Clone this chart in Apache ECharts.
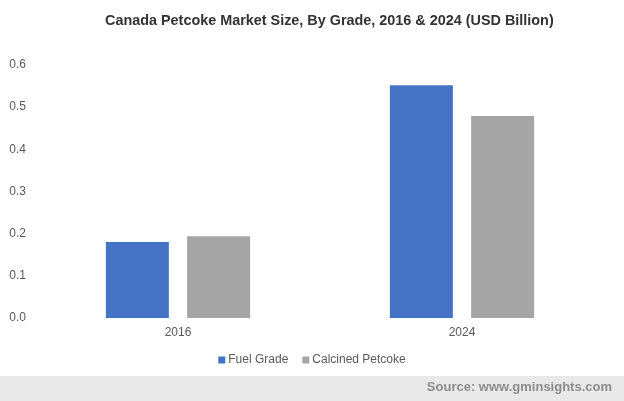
<!DOCTYPE html>
<html>
<head>
<meta charset="utf-8">
<script src="https://cdn.jsdelivr.net/npm/echarts@6/dist/echarts.min.js"></script>
<style>
    html, body { margin: 0; padding: 0; background: #fff; }
    #chart { width: 624px; height: 401px; }
</style>
</head>
<body>
<div id="chart"></div>
<script>
// data
var years = ['2016', '2024'];
var fuelGrade = [0.18, 0.552];
var calcinedPetcoke = [0.194, 0.479];
var yTicks = [0, 0.1, 0.2, 0.3, 0.4, 0.5, 0.6];

var font = 'Liberation Sans, Arial, sans-serif';
var chart = echarts.init(document.getElementById('chart'));

var option = {
    animation: false,
    color: ['#4472c4', '#a5a5a5'],
    title: {
        text: 'Canada Petcoke Market Size, By Grade, 2016 & 2024 (USD Billion)',
        left: 100,
        top: 9,
        textStyle: { fontFamily: font, fontSize: 14.4, fontWeight: 'bold', color: '#333' }
    },
    legend: {
        data: ['Fuel Grade', 'Calcined Petcoke'],
        top: 349,
        left: 'center',
        itemWidth: 7,
        itemHeight: 7,
        itemGap: 14,
        icon: 'rect',
        textStyle: { fontFamily: font, fontSize: 12, color: '#595959', padding: [0, 0, 0, -2] }
    },
    grid: { left: 36, right: 20, top: 65, bottom: 83, containLabel: false },
    xAxis: {
        type: 'category',
        data: years,
        axisLine: { show: false },
        axisTick: { show: false },
        axisLabel: { fontFamily: font, fontSize: 12, color: '#595959', margin: 9 }
    },
    yAxis: {
        type: 'value',
        min: yTicks[0],
        max: yTicks[yTicks.length - 1],
        interval: 0.1,
        splitLine: { show: false },
        axisLine: { show: false },
        axisTick: { show: false },
        axisLabel: {
            fontFamily: font, fontSize: 12, color: '#595959', margin: 10,
            formatter: function (v) { return v.toFixed(1); }
        }
    },
    series: [
        { name: 'Fuel Grade', type: 'bar', data: fuelGrade, barWidth: 63, barGap: '29%' },
        { name: 'Calcined Petcoke', type: 'bar', data: calcinedPetcoke, barWidth: 63, barGap: '29%' }
    ],
    graphic: [
        {
            type: 'rect',
            left: 0, top: 376,
            shape: { width: 624, height: 25 },
            style: { fill: '#e8e8e8' },
            silent: true
        },
        {
            type: 'text',
            right: 12, top: 381,
            style: {
                text: 'Source: www.gminsights.com',
                font: 'bold 13px ' + font,
                fill: '#8c8c8c'
            }
        }
    ]
};

chart.setOption(option);
</script>
</body>
</html>
